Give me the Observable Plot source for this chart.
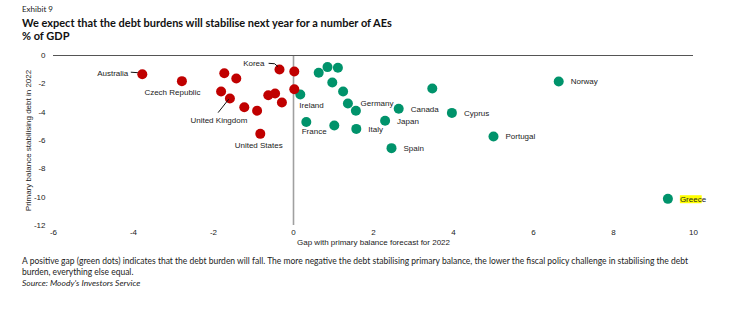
<!DOCTYPE html>
<html>
<head>
<meta charset="utf-8">
<script src="https://cdn.jsdelivr.net/npm/d3@7"></script>
<script src="https://cdn.jsdelivr.net/npm/@observablehq/plot@0.6"></script>
<style>
  html, body { margin: 0; padding: 0; background: #fff; }
  #wrap { position: relative; width: 747px; height: 321px; overflow: hidden; background: #fff; }
  #chart { position: absolute; left: 0; top: 0; }
  .hdr { position: absolute; left: 22px; white-space: nowrap; color: #111; }
  #exhibit { top: 3px; font: 8px/12px "Lato", "Liberation Sans", sans-serif; color: #222; }
  #title { top: 16px; font: bold 11px/14px "Lato", "Liberation Sans", sans-serif; }
  #sub { top: 29px; font: bold 11px/14px "Lato", "Liberation Sans", sans-serif; }
  #caption { position: absolute; left: 22px; top: 256px; font: 8.5px/11px "Lato", "Liberation Sans", sans-serif; color: #222; white-space: nowrap; }
  #caption i { display: block; }
</style>
</head>
<body>
<div id="wrap">
  <div id="chart"></div>
  <div class="hdr" id="exhibit">Exhibit 9</div>
  <div class="hdr" id="title">We expect that the debt burdens will stabilise next year for a number of AEs</div>
  <div class="hdr" id="sub">% of GDP</div>
  <div id="caption">A positive gap (green dots) indicates that the debt burden will fall. The more negative the debt stabilising primary balance, the lower the fiscal policy challenge in stabilising the debt<br>burden, everything else equal.<i>Source: Moody's Investors Service</i></div>
</div>
<script>
// ---- Data ----
const redNames = ["Australia", "Czech Republic", "", "", "", "United Kingdom", "", "", "United States", "", "", "", "Korea", "", ""];
const redGap = [-3.78, -2.79, -1.73, -1.43, -1.81, -1.59, -1.23, -0.91, -0.83, -0.63, -0.46, -0.29, -0.35, 0.02, 0.02];
const redBalance = [-1.32, -1.81, -1.25, -1.62, -2.54, -3.03, -3.65, -3.90, -5.53, -2.80, -2.68, -3.32, -0.99, -1.13, -2.38];

const greenNames = ["Ireland", "", "", "", "", "", "", "Germany", "France", "", "Italy", "Japan", "Canada", "Spain", "", "Cyprus", "Portugal", "Norway", "Greece"];
const greenGap = [0.17, 0.63, 0.85, 1.11, 0.97, 1.24, 1.36, 1.56, 0.32, 1.02, 1.57, 2.29, 2.63, 2.45, 3.47, 3.96, 5.00, 6.63, 9.36];
const greenBalance = [-2.75, -1.22, -0.82, -0.87, -1.90, -2.54, -3.39, -3.90, -4.70, -4.94, -5.18, -4.61, -3.76, -6.54, -2.33, -4.05, -5.72, -1.83, -10.12];

const xTicks = [-6, -4, -2, 0, 2, 4, 6, 8, 10];
const yTicks = [0, -2, -4, -6, -8, -10, -12];

const xLabel = "Gap with primary balance forecast for 2022";
const yLabel = "Primary balance stabilising debt in 2022";

// ---- Styling / layout ----
const RED = "#c00000";
const GREEN = "#00936b";
const FONT = "Liberation Sans, Arial, sans-serif";

const labelLayout = {
  "Australia": {dx: -14, dy: -1, anchor: "end"},
  "Korea": {dx: -15, dy: -6, anchor: "end"},
  "Czech Republic": {dx: -9.5, dy: 11.6, anchor: "middle"},
  "United Kingdom": {dx: -11, dy: 22, anchor: "middle"},
  "United States": {dx: -1.6, dy: 12, anchor: "middle"},
  "Ireland": {dx: -1, dy: 11.3, anchor: "start"},
  "Germany": {dx: 4.7, dy: -7, anchor: "start"},
  "France": {dx: -4.6, dy: 9.3, anchor: "start"}
};
const defaultLayout = {dx: 12, dy: 0.3, anchor: "start"};

const leaders = {
  "Australia": [[-11, -1.5], [-4, -1]],
  "Korea": [[-10.4, -5.7], [-4.4, -5.3], [-1, -2.3]],
  "United Kingdom": [[-11.3, 14.7], [-0.7, 1.3]]
};

// ---- Build rows ----
const red = redNames.map((name, i) => ({name, gap: redGap[i], balance: redBalance[i], group: "red"}));
const green = greenNames.map((name, i) => ({name, gap: greenGap[i], balance: greenBalance[i], group: "green"}));
const labelled = [...red, ...green].filter(d => d.name);

const labelMarks = [];
const groups = d3.group(labelled, d => JSON.stringify(labelLayout[d.name] || defaultLayout));
for (const [key, rows] of groups) {
  const L = JSON.parse(key);
  labelMarks.push(Plot.text(rows, {
    x: "gap", y: "balance", text: "name",
    dx: L.dx, dy: L.dy, textAnchor: L.anchor,
    fill: "#222", fontSize: 8
  }));
}

function leaderMark(index, scales) {
  const g = d3.create("svg:g");
  for (const d of labelled) {
    const pts = leaders[d.name];
    if (!pts) continue;
    const cx = scales.x(d.gap), cy = scales.y(d.balance);
    g.append("path")
      .attr("d", d3.line()(pts.map(([ox, oy]) => [cx + ox, cy + oy])))
      .attr("fill", "none").attr("stroke", "#111").attr("stroke-width", 1);
  }
  return g.node();
}

const hyphenFormat = d => String(d);

const plot = Plot.plot({
  width: 747,
  height: 250,
  marginTop: 55,
  marginBottom: 25,
  marginLeft: 53,
  marginRight: 54,
  style: {fontFamily: FONT, fontSize: "8px", color: "#222", background: "transparent"},
  x: {domain: [-6, 10], ticks: xTicks, tickSize: 0, tickPadding: 4, tickFormat: hyphenFormat, label: null},
  y: {domain: [-12, 0], ticks: yTicks, tickSize: 0, tickPadding: 8, tickFormat: hyphenFormat, label: null},
  marks: [
    Plot.ruleX([0], {stroke: "#a0a0a0", strokeWidth: 1.6}),
    Plot.ruleY([0], {stroke: "#555", strokeWidth: 1.2}),
    Plot.dot(green, {x: "gap", y: "balance", r: 5, fill: GREEN}),
    Plot.dot(red, {x: "gap", y: "balance", r: 5, fill: RED}),
    leaderMark,
    ...labelMarks,
    Plot.text([xLabel], {frameAnchor: "bottom", dy: 19, text: d => d, fill: "#222", fontSize: 8}),
    Plot.text([yLabel], {frameAnchor: "left", textAnchor: "middle", dx: -25, rotate: -90, text: d => d, fill: "#222", fontSize: 8})
  ]
});

document.getElementById("chart").appendChild(plot);

// Yellow highlight behind "Greece"
for (const t of plot.querySelectorAll("text")) {
  if (t.textContent === "Greece") {
    try {
      const bb = t.getBBox();
      let w = bb.width;
      try { w = t.getSubStringLength(0, 5); } catch (e) {}
      const r = document.createElementNS("http://www.w3.org/2000/svg", "rect");
      r.setAttribute("x", bb.x);
      r.setAttribute("y", bb.y + 0.5);
      r.setAttribute("width", w);
      r.setAttribute("height", bb.height - 1);
      r.setAttribute("fill", "#ffff00");
      const tr = t.getAttribute("transform");
      if (tr) r.setAttribute("transform", tr);
      t.parentNode.insertBefore(r, t);
    } catch (e) {}
  }
}
</script>
</body>
</html>
